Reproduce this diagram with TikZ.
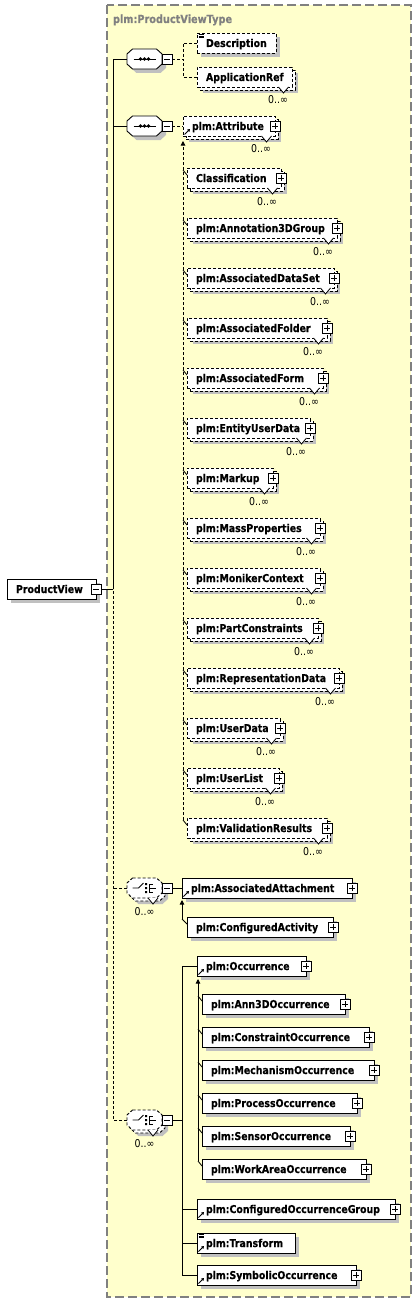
\documentclass[tikz,border=0pt]{standalone}
\usepackage{fontspec}
\setmainfont[FakeStretch=0.87,BoldFeatures={FakeBold=0.4}]{DejaVu Sans}
\usetikzlibrary{arrows.meta,calc}
\definecolor{bgyellow}{RGB}{255,255,204}
\definecolor{shadowgray}{RGB}{192,192,192}
\definecolor{framegray}{RGB}{128,128,128}
\tikzset{
 every node/.style={inner sep=0pt,outer sep=0pt},
 ln/.style={line width=0.9pt},
 dsh/.style={dash pattern=on 3pt off 2pt},
 ebox/.style={draw=black,line width=0.9pt,fill=white,minimum height=20pt,anchor=west,rectangle},
 etext/.style={font=\bfseries\fontsize{10.8}{13}\selectfont,anchor=base west},
 occtext/.style={font=\fontsize{10.8}{13}\selectfont,anchor=base east},
 pmbox/.style={draw=black,line width=0.8pt,fill=white,minimum size=10pt,rectangle},
 tip/.style={-{Triangle[length=4.5pt,width=4.5pt]}},
}
% single element: name, left, right, cy, text, border style
\newcommand\sel[6]{%
 \fill[shadowgray] (#2+4,#4-6) rectangle (#3+4,#4+14);
 \node[ebox,#6,minimum width={#3-#2}] (#1) at (#2,#4) {};
 \node[etext] (#1-t) at (#2+9,#4+4) {#5};}
% multiple element (0..inf)
\newcommand\mel[6]{%
 \fill[shadowgray] (#2+6,#4-4) rectangle (#3+6,#4+16);
 \node[ebox,#6,minimum width={#3-#2}] (#1-b) at (#2+3,#4+3) {};
 \node[ebox,#6,minimum width={#3-#2}] (#1) at (#2,#4) {};
 \node[etext] (#1-t) at (#2+9,#4+4) {#5};
 \filldraw[fill=white,line width=0.8pt] (#3-13.5,#4+10) -- (#3-8.5,#4+16) -- (#3-3.5,#4+10);
 \node[occtext] (#1-o) at (#3-4,#4+27) {0..∞};}
\newcommand\plusof[1]{%
 \node[pmbox] (#1-p) at (#1.east) {};
 \draw[line width=0.8pt] ([xshift=-3pt]#1-p.center) -- ([xshift=3pt]#1-p.center)
   ([yshift=-3pt]#1-p.center) -- ([yshift=3pt]#1-p.center);}
\newcommand\minusof[1]{%
 \node[pmbox] (#1-m) at (#1.east) {};
 \draw[line width=0.8pt] ([xshift=-3pt]#1-m.center) -- ([xshift=3pt]#1-m.center);}
\newcommand\refico[1]{%
 \draw[line width=1pt,-{Triangle[length=2.5pt,width=3pt]}] ([xshift=1.5pt,yshift=1.5pt]#1.south west) -- ([xshift=7pt,yshift=7pt]#1.south west);}
\newcommand\docico[1]{%
 \foreach \d in {1.5pt,3pt,4.5pt}{\draw[line width=0.6pt] ([xshift=1.5pt,yshift=-\d]#1.north west) -- ([xshift=6.5pt,yshift=-\d]#1.north west);}}
\newcommand\subtick[2]{%
 \draw[line width=0.8pt] ($(#1.west -| #2)+(0,-8)$) -- ($(#1.west)+(0,-3)$);}
\newcommand\octpath[1]{\path[#1] (-12,-10) -- (12,-10) -- (17.5,-5) -- (17.5,5) -- (12,10) -- (-12,10) -- (-17.5,5) -- (-17.5,-5) -- cycle;}
% sequence compositor
\newcommand\seqc[3]{%
 \begin{scope}[shift={(#2+4,#3+4)}]\octpath{fill=shadowgray}\end{scope}
 \begin{scope}[shift={(#2,#3)}]\octpath{draw,fill=white,line width=0.9pt}\end{scope}
 \node[minimum width=35pt,minimum height=20pt] (#1) at (#2,#3) {};
 \draw[line width=0.9pt] (#2-11,#3) -- (#2+11,#3);
 \fill (#2-4,#3) circle[radius=1.9pt] (#2,#3) circle[radius=1.9pt] (#2+4,#3) circle[radius=1.9pt];
 \node[pmbox] (#1-m) at (#2+22.5,#3) {};
 \draw[line width=0.8pt] ([xshift=-3pt]#1-m.center) -- ([xshift=3pt]#1-m.center);}
% choice compositor 0..inf
\newcommand\chc[3]{%
 \begin{scope}[shift={(#2+6,#3+6)}]\octpath{fill=shadowgray}\end{scope}
 \begin{scope}[shift={(#2+3,#3+3)}]\octpath{draw,fill=white,line width=0.9pt,dsh}\end{scope}
 \begin{scope}[shift={(#2,#3)}]\octpath{draw,fill=white,line width=0.9pt,dsh}\end{scope}
 \node[minimum width=35pt,minimum height=20pt] (#1) at (#2,#3) {};
 \draw[line width=0.9pt] (#2-12,#3) -- (#2-6,#3) -- (#2-1,#3-5);
 \fill (#2+0.5,#3-5) rectangle (#2+2.5,#3-3) (#2+0.5,#3-1) rectangle (#2+2.5,#3+1) (#2+0.5,#3+3) rectangle (#2+2.5,#3+5);
 \draw[line width=0.9pt] (#2+8,#3-4) -- (#2+4.5,#3-4) -- (#2+4.5,#3+4) -- (#2+8,#3+4) (#2+4.5,#3) -- (#2+11,#3);
 \filldraw[fill=white,line width=0.8pt] (#2+3.5,#3+10) -- (#2+8.5,#3+16) -- (#2+13.5,#3+10);
 \node[occtext,anchor=base] (#1-o) at (#2,#3+27) {0..∞};
 \node[pmbox] (#1-m) at (#2+22.5,#3) {};
 \draw[line width=0.8pt] ([xshift=-3pt]#1-m.center) -- ([xshift=3pt]#1-m.center);}

\begin{document}
\begin{tikzpicture}[x=1pt,y=-1pt]
\useasboundingbox (0,0) rectangle (417,1303);
\fill[white] (0,0) rectangle (417,1303);
\draw[fill=bgyellow,draw=framegray,line width=1.3pt,dash pattern=on 9pt off 4pt] (107,5) rectangle (411,1297);
\node[font=\bfseries\fontsize{11.2}{12}\selectfont,text=framegray,anchor=base west] (title) at (113,23) {plm:ProductViewType};

% root
\sel{pv}{7}{96}{589}{ProductView}{}
\minusof{pv}

% compositors
\seqc{seq1}{144.5}{59}
\seqc{seq2}{144.5}{126}
\chc{ch1}{144.5}{888}
\chc{ch2}{144.5}{1120}

% first sequence
\sel{desc}{197}{276}{43}{Description}{dsh}
\docico{desc}
\mel{appref}{197}{292}{77}{ApplicationRef}{dsh}

% attribute group
\mel{attr}{183}{275}{126}{plm:Attribute}{dsh}
\plusof{attr}\refico{attr}
\mel{a1}{187}{281}{178}{Classification}{dsh}\plusof{a1}
\mel{a2}{187}{337}{228}{plm:Annotation3DGroup}{dsh}\plusof{a2}
\mel{a3}{187}{334}{278}{plm:AssociatedDataSet}{dsh}\plusof{a3}
\mel{a4}{187}{327}{328}{plm:AssociatedFolder}{dsh}\plusof{a4}
\mel{a5}{187}{323}{378}{plm:AssociatedForm}{dsh}\plusof{a5}
\mel{a6}{187}{310}{428}{plm:EntityUserData}{dsh}\plusof{a6}
\mel{a7}{187}{273}{478}{plm:Markup}{dsh}\plusof{a7}
\mel{a8}{187}{320}{528}{plm:MassProperties}{dsh}\plusof{a8}
\mel{a9}{187}{320}{578}{plm:MonikerContext}{dsh}\plusof{a9}
\mel{a10}{187}{318}{628}{plm:PartConstraints}{dsh}\plusof{a10}
\mel{a11}{187}{339}{678}{plm:RepresentationData}{dsh}\plusof{a11}
\mel{a12}{187}{280}{728}{plm:UserData}{dsh}\plusof{a12}
\mel{a13}{187}{279}{778}{plm:UserList}{dsh}\plusof{a13}
\mel{a14}{187}{327}{828}{plm:ValidationResults}{dsh}\plusof{a14}

% first choice
\sel{aa}{182}{352}{888}{plm:AssociatedAttachment}{}
\plusof{aa}\refico{aa}
\sel{ca}{187}{333}{927}{plm:ConfiguredActivity}{}
\plusof{ca}

% second choice
\sel{occ}{197}{306}{966}{plm:Occurrence}{}
\plusof{occ}\refico{occ}
\sel{o1}{202}{345}{1004}{plm:Ann3DOccurrence}{}\plusof{o1}
\sel{o2}{202}{369}{1037}{plm:ConstraintOccurrence}{}\plusof{o2}
\sel{o3}{202}{374}{1070}{plm:MechanismOccurrence}{}\plusof{o3}
\sel{o4}{202}{357}{1103}{plm:ProcessOccurrence}{}\plusof{o4}
\sel{o5}{202}{350}{1136}{plm:SensorOccurrence}{}\plusof{o5}
\sel{o6}{202}{366}{1169}{plm:WorkAreaOccurrence}{}\plusof{o6}
\sel{cog}{197}{395}{1209}{plm:ConfiguredOccurrenceGroup}{}
\plusof{cog}\refico{cog}
\sel{trf}{197}{295}{1243}{plm:Transform}{}
\docico{trf}\refico{trf}
\sel{sym}{197}{356}{1275}{plm:SymbolicOccurrence}{}
\plusof{sym}\refico{sym}

% connectors
\coordinate (trunk) at (113,589);
\draw[ln] (pv-m.east) -- (trunk);
\draw[ln] (seq1.west) -| (trunk);
\draw[ln] (seq2.west) -- (seq2.west -| trunk);
\draw[ln,dsh] (ch2.west) -| (trunk);
\draw[ln,dsh] (ch1.west) -- (ch1.west -| trunk);

\coordinate (j1) at (183,59);
\draw[ln,dsh] (seq1-m.east) -- (j1);
\draw[ln,dsh] (desc.west) -| (j1);
\draw[ln,dsh] (appref.west) -| (j1);

\draw[ln,dsh] (seq2-m.east) -- (attr.west);
\coordinate (attr-end) at (183,820);
\draw[ln,dsh,tip] (attr-end) -- ([yshift=-5pt]attr.south west);
\foreach \m in {a1,a2,a3,a4,a5,a6,a7,a8,a9,a10,a11,a12,a13,a14}{\subtick{\m}{attr-end}}

\draw[ln] (ch1-m.east) -- (aa.west);
\coordinate (ca-end) at (182,919);
\draw[ln,tip] (ca-end) -- ([yshift=-2pt]aa.south west);
\subtick{ca}{ca-end}

\coordinate (j2) at (182,1120);
\draw[ln] (ch2-m.east) -- (j2);
\draw[ln] (occ.west) -| (j2);
\draw[ln] (sym.west) -| (j2);
\draw[ln] (cog.west) -- (cog.west -| j2);
\draw[ln] (trf.west) -- (trf.west -| j2);
\coordinate (occ-end) at (198,1161);
\draw[ln,tip] (occ-end) -- ([xshift=1pt,yshift=-3pt]occ.south west);
\foreach \m in {o1,o2,o3,o4,o5,o6}{\subtick{\m}{occ-end}}
\end{tikzpicture}
\end{document}
